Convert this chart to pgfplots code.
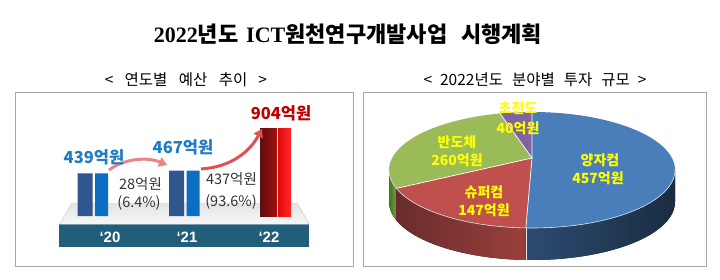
\documentclass[border=0pt]{standalone}
\usepackage{fontspec}
\setmainfont{Noto Sans CJK KR}
\newfontfamily\tserif{Liberation Serif}
\newfontfamily\lsans{Liberation Sans}
\usepackage{pgfplots}
\pgfplotsset{compat=1.18}
\usetikzlibrary{arrows.meta}
\definecolor{bdark}{HTML}{2F568E}
\definecolor{blight}{HTML}{0A6FC2}
\definecolor{rdark}{HTML}{8C1414}
\definecolor{rdarker}{HTML}{5E0E0E}
\definecolor{rlight}{HTML}{E10A0A}
\definecolor{band}{HTML}{215E7A}
\definecolor{lblue}{HTML}{1E7BC6}
\definecolor{lred}{HTML}{C00000}
\definecolor{arrowred}{HTML}{E25050}
\definecolor{pblue}{HTML}{4A7EBB}
\definecolor{pred}{HTML}{C0504D}
\definecolor{pgreen}{HTML}{9BBB59}
\definecolor{ppurple}{HTML}{8064A2}
\definecolor{boxgray}{HTML}{A6A6A6}
\definecolor{txtgray}{HTML}{333333}
\definecolor{yel}{HTML}{FFFF00}
\begin{document}
\begin{tikzpicture}[x=1pt,y=1pt]
\path[use as bounding box] (0,0) rectangle (720,279);
% title
\node at (348,245) {\fontsize{22}{26}\selectfont\bfseries{\tserif 2022}년도\hspace{8pt}{\tserif ICT}원천연구개발사업\hspace{14pt}시행계획};
% subtitles
\node at (186,199) {\fontsize{15.5}{17}\selectfont <\hspace{11pt}연도별\hspace{11.5pt}예산\hspace{11.5pt}추이\hspace{11pt}>};
\node at (535,199) {\fontsize{15.5}{17}\selectfont <\hspace{8pt}2022년도\hspace{9pt}분야별\hspace{9pt}투자\hspace{9pt}규모\hspace{8pt}>};
% panel boxes
\draw[boxgray, line width=0.8pt] (15,13) rectangle (353,187);
\draw[boxgray, line width=0.8pt] (363,13) rectangle (706,187);
% platform
\fill[top color=gray!22, bottom color=gray!6, draw=gray!25] (72,76) -- (297,76) -- (309,55) -- (60,55) -- cycle;
% band
\fill[band] (59,32) rectangle (309,55);
\draw[band!60!white, line width=0.8pt] (59,54.6) -- (309,54.6);
% ---- left: budget bars
\begin{axis}[at={(15pt,13pt)}, anchor=south west, x=91.5pt, y=0.097pt,
  xmin=-0.847, xmax=2.847, ymin=-515, ymax=1278, hide axis, clip=false]
\addplot[ybar, bar width=15pt, bar shift=-7.5pt, fill=bdark, draw=none] coordinates {(0,439) (1,467)};
\addplot[ybar, bar width=13pt, bar shift=9pt, fill=blight, draw=none] coordinates {(0,439) (1,467)};
\addplot[ybar, bar width=17pt, bar shift=-7pt, left color=rdarker, right color=rdark!80!red, draw=none] coordinates {(2,904)};
\addplot[ybar, bar width=13pt, bar shift=9pt, left color=rlight, right color=red!85!white, draw=none] coordinates {(2,904)};
\end{axis}
% growth arrows
\draw[line width=3pt, -{Triangle[length=8pt,width=10pt]}, arrowred!70!white] (109,109) .. controls (125,121) and (148,122) .. (167,114);
\draw[line width=3pt, -{Triangle[length=8pt,width=10pt]}, arrowred] (201,110) .. controls (232,112) and (250,128) .. (262,150);
% bar labels
\node[lblue] at (94,122) {\fontsize{16.5}{18}\selectfont\bfseries 439억원};
\node[lblue] at (183,132) {\fontsize{16.5}{18}\selectfont\bfseries 467억원};
\node[lred] at (281,166) {\fontsize{16.5}{18}\selectfont\bfseries 904억원};
\node[txtgray] at (140.5,95) {\fontsize{14.5}{16}\selectfont 28억원};
\node[txtgray] at (139,76) {\fontsize{14.5}{16}\selectfont (6.4\%)};
\node[txtgray] at (231.5,100) {\fontsize{14.5}{16}\selectfont 437억원};
\node[txtgray] at (231,77) {\fontsize{14.5}{16}\selectfont (93.6\%)};
\node[white] at (110,42) {\fontsize{15}{16}\selectfont\lsans\bfseries ‘20};
\node[white] at (187,42) {\fontsize{15}{16}\selectfont\lsans\bfseries ‘21};
\node[white] at (269,42) {\fontsize{15}{16}\selectfont\lsans\bfseries ‘22};
% ---- right: pie of 2022 investment by field
\def\vQ{457}\def\vS{147}\def\vB{260}\def\vC{40}
\pgfmathsetmacro{\tot}{\vQ+\vS+\vB+\vC}
\pgfmathsetmacro{\kk}{0.207}
\pgfmathsetmacro{\sq}{sqrt(1-\kk*\kk)}
\pgfmathsetmacro{\thB}{90-360*(\vQ/\tot)}
\pgfmathsetmacro{\thC}{\thB-360*(\vS/\tot)}
\pgfmathsetmacro{\thD}{\thC-360*(\vB/\tot)}
\pgfmathsetmacro{\tB}{atan2(sin(\thB)+\kk,cos(\thB)*\sq)}
\pgfmathsetmacro{\tC}{atan2(sin(\thC)+\kk,cos(\thC)*\sq)}
\pgfmathsetmacro{\tD}{atan2(sin(\thD)+\kk,cos(\thD)*\sq)-360}
\newcommand{\ept}[1]{(axis cs:{532+143*cos(#1)},{109+58*sin(#1)})}
\begin{axis}[at={(363pt,13pt)}, anchor=south west, x=1pt, y=1pt,
  xmin=363, xmax=706, ymin=13, ymax=187, hide axis, clip=false]
% sides
\fill[left color=green!30!black!60!pgreen, right color=pgreen!80!black] \ept{-180} arc[start angle=-180, end angle=\tC, x radius=143pt, y radius=58pt] -- ++(0pt,-32pt) arc[start angle=\tC, end angle=-180, x radius=143pt, y radius=58pt] -- cycle;
\fill[left color=pred!55!black, right color=pred!80!black] \ept{\tC} arc[start angle=\tC, end angle=\tB, x radius=143pt, y radius=58pt] -- ++(0pt,-32pt) arc[start angle=\tB, end angle=\tC, x radius=143pt, y radius=58pt] -- cycle;
\fill[left color=pblue!60!black, right color=pblue!35!black] \ept{\tB} arc[start angle=\tB, end angle=0, x radius=143pt, y radius=58pt] -- ++(0pt,-32pt) arc[start angle=0, end angle=\tB, x radius=143pt, y radius=58pt] -- cycle;
\draw[white!85!gray, line width=0.6pt] \ept{\tB} -- ++(0pt,-32pt);
% top
\fill[pblue] (axis cs:532,121) -- \ept{90} arc[start angle=90, end angle=\tB, x radius=143pt, y radius=58pt] -- cycle;
\fill[pred] (axis cs:532,121) -- \ept{\tB} arc[start angle=\tB, end angle=\tC, x radius=143pt, y radius=58pt] -- cycle;
\fill[pgreen] (axis cs:532,121) -- \ept{\tC} arc[start angle=\tC, end angle=\tD, x radius=143pt, y radius=58pt] -- cycle;
\fill[ppurple] (axis cs:532,121) -- \ept{\tD} arc[start angle=\tD, end angle=-270, x radius=143pt, y radius=58pt] -- cycle;
\draw[white, line width=0.7pt] \ept{90} -- (axis cs:532,121) -- \ept{\tB};
\draw[white, line width=0.7pt] \ept{\tC} -- (axis cs:532,121) -- \ept{\tD};
\draw[white!80!pblue, line width=0.6pt] \ept{-180} arc[start angle=-180, end angle=0, x radius=143pt, y radius=58pt];
\end{axis}
% pie labels
\node[yel] at (600,119) {\fontsize{14}{16}\selectfont\bfseries 양자컴};
\node[yel] at (598,101) {\fontsize{14}{16}\selectfont\bfseries 457억원};
\node[yel] at (457,137) {\fontsize{14}{16}\selectfont\bfseries 반도체};
\node[yel] at (457,119) {\fontsize{14}{16}\selectfont\bfseries 260억원};
\node[yel] at (484,87) {\fontsize{14}{16}\selectfont\bfseries 슈퍼컴};
\node[yel] at (484,69) {\fontsize{14}{16}\selectfont\bfseries 147억원};
\node[yel] at (518,171) {\fontsize{14}{16}\selectfont\bfseries 초전도};
\node[yel] at (518,151) {\fontsize{14}{16}\selectfont\bfseries 40억원};
\end{tikzpicture}
\end{document}
